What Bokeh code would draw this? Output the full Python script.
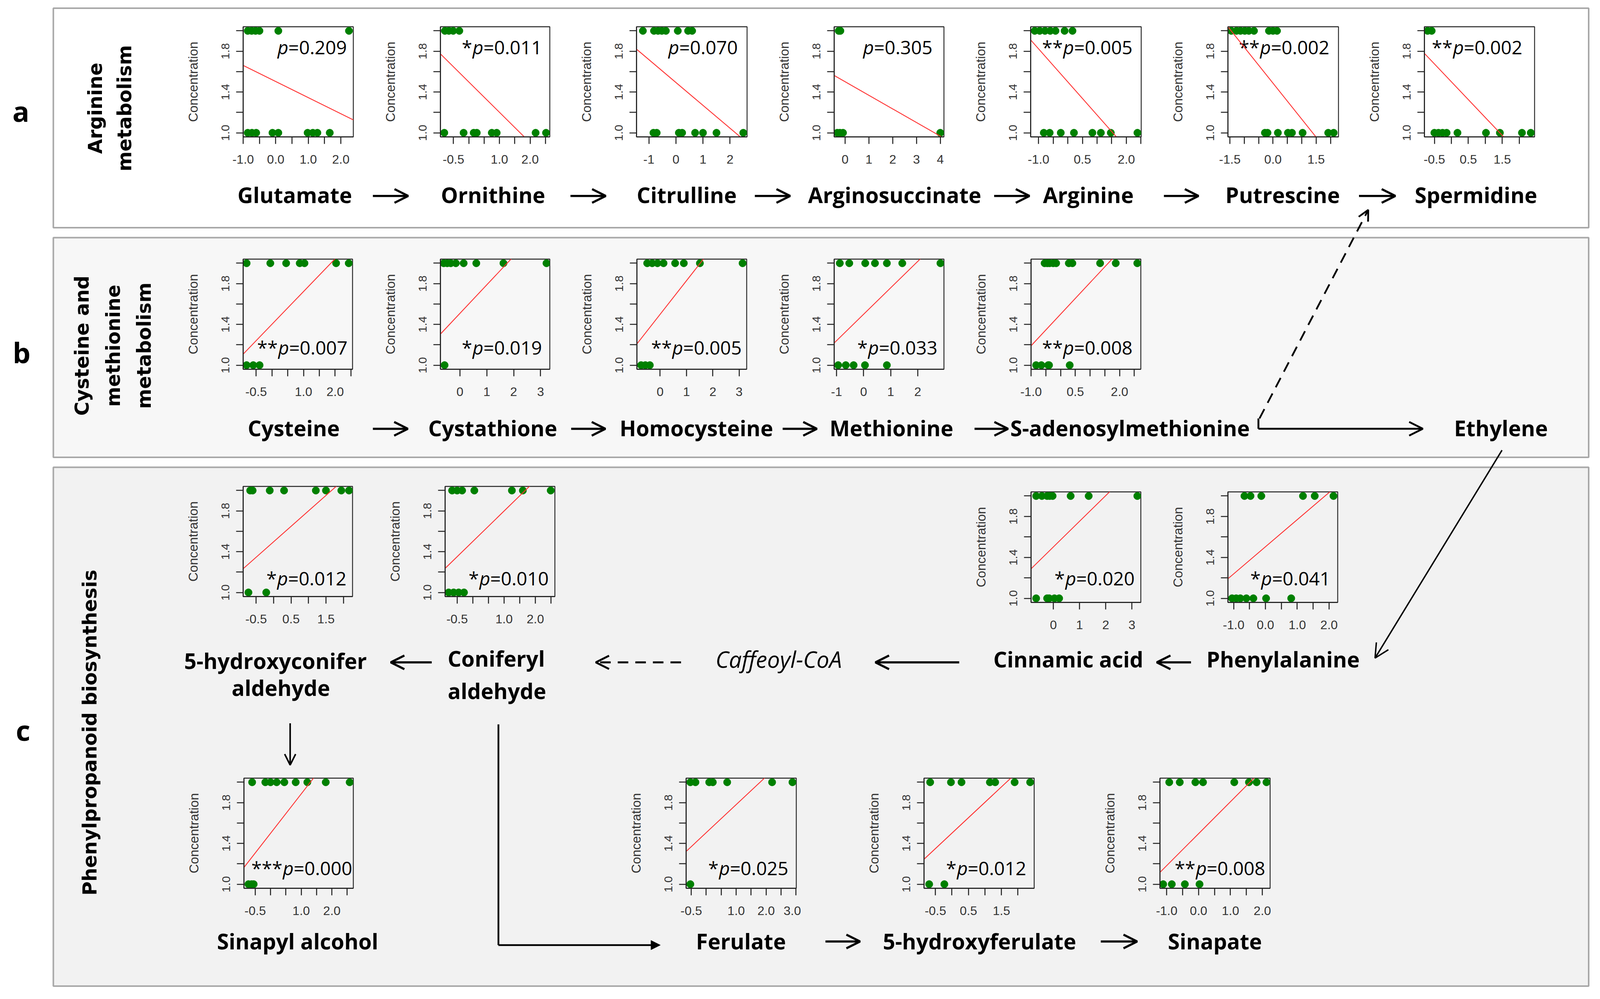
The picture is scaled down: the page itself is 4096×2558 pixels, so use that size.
import math
from bokeh.plotting import figure
from bokeh.models import Range1d, FixedTicker, Arrow, OpenHead, NormalHead, GridBox
from bokeh.embed import file_html
from bokeh.resources import INLINE
from bokeh.core.properties import value

# ---------------- data ----------------
METABOLITES = ["Glutamate", "Ornithine", "Citrulline", "Arginosuccinate", "Arginine",
               "Putrescine", "Spermidine",
               "Cysteine", "Cystathione", "Homocysteine", "Methionine", "S-adenosylmethionine",
               "5-hydroxyconifer aldehyde", "Coniferyl aldehyde", "Cinnamic acid", "Phenylalanine",
               "Sinapyl alcohol", "Ferulate", "5-hydroxyferulate", "Sinapate"]

CONC_LEVELS = [1.0, 2.0]

X_AT_HIGH = [
    [-0.86, -0.74, -0.62, -0.50, 0.08, 2.25],
    [-0.78, -0.65, -0.51, -0.31],
    [-1.22, -0.81, -0.66, -0.52, -0.37, 0.07, 0.45, 0.60],
    [-0.27, -0.20],
    [-1.13, -0.96, -0.78, -0.60, -0.42, -0.11, 0.16],
    [-1.45, -1.27, -1.13, -0.98, -0.84, -0.66, -0.14, 0.0, 0.14],
    [-0.70, -0.58],
    [-0.80, -0.05, 0.45, 0.88, 1.03, 2.03, 2.43],
    [-0.60, -0.47, -0.34, -0.15, 0.14, 0.61, 1.62, 3.22],
    [-0.49, -0.30, -0.10, 0.13, 0.57, 0.90, 1.51, 3.13],
    [-0.88, -0.53, 0.06, 0.42, 0.86, 1.43, 2.84],
    [-0.54, -0.45, -0.37, -0.25, -0.15, 0.28, 0.40, 1.34, 1.87, 2.60],
    [-0.67, -0.60, -0.11, 0.30, 1.21, 1.50, 1.94, 2.16],
    [-0.66, -0.50, -0.34, 0.05, 1.25, 1.60, 2.49],
    [-0.66, -0.44, -0.24, -0.14, -0.03, 0.66, 1.35, 3.21],
    [-0.66, -0.47, -0.13, 1.18, 1.55, 2.14],
    [-0.60, -0.17, 0.0, 0.20, 0.45, 0.82, 1.20, 1.80, 2.58],
    [-0.53, -0.36, 0.10, 0.22, 0.70, 2.20, 2.88],
    [-0.66, -0.03, 0.29, 1.15, 1.31, 1.90, 2.37],
    [-0.92, -0.59, -0.10, 0.14, 1.12, 1.58, 1.82, 2.13],
]

X_AT_LOW = [
    [-0.86, -0.73, -0.60, -0.10, 0.08, 0.98, 1.14, 1.28, 1.66],
    [-0.80, -0.17, 0.16, 0.26, 0.75, 0.91, 2.18, 2.52],
    [-0.83, -0.71, 0.11, 0.23, 0.71, 1.00, 1.50, 2.49],
    [-0.33, -0.22, -0.09, 4.00],
    [-0.82, -0.62, -0.24, 0.21, 0.84, 1.13, 1.47, 2.38],
    [-0.28, -0.19, 0.17, 0.52, 0.66, 1.03, 1.92, 2.11],
    [-0.50, -0.38, -0.26, -0.14, 0.18, 1.02, 1.43, 2.08, 2.34],
    [-0.80, -0.59, -0.39],
    [-0.57],
    [-0.72, -0.56, -0.39],
    [-0.94, -0.66, -0.37, 0.05, 0.86],
    [-0.83, -0.65, -0.42, -0.39, 0.31],
    [-0.72, -0.21],
    [-0.77, -0.61, -0.45, -0.28],
    [-0.66, -0.24, -0.16, 0.04, 0.22],
    [-1.05, -0.92, -0.79, -0.60, -0.38, 0.02, 0.81],
    [-0.72, -0.62, -0.55],
    [-0.53],
    [-0.69, -0.23],
    [-1.11, -0.84, -0.43, 0.03],
]

FIT_INTERCEPT = [1.503, 1.4985, 1.4936, 1.5007, 1.4992, 1.487, 1.5006,
                 1.4008, 1.5076, 1.4986, 1.4994, 1.4998,
                 1.497, 1.4999, 1.502, 1.5037,
                 1.499, 1.5055, 1.5008, 1.4955]
FIT_SLOPE = [-0.158, -0.2975, -0.2243, -0.1333, -0.3245, -0.353, -0.3506,
             0.3215, 0.2802, 0.3297, 0.259, 0.3098,
             0.303, 0.2988, 0.2506, 0.265,
             0.3864, 0.275, 0.3024, 0.3134]

P_STARS = ["", "*", "", "", "**", "**", "**",
           "**", "*", "**", "*", "**",
           "*", "*", "*", "*",
           "***", "*", "*", "**"]
P_VALUES = ["0.209", "0.011", "0.070", "0.305", "0.005", "0.002", "0.002",
            "0.007", "0.019", "0.005", "0.033", "0.008",
            "0.012", "0.010", "0.020", "0.041",
            "0.000", "0.025", "0.012", "0.008"]

X_LIMITS = [(-1.0, 2.384), (-0.926, 2.643), (-1.455, 2.630), (-0.46, 4.154), (-1.269, 2.509),
            (-1.566, 2.277), (-0.794, 2.452),
            (-0.909, 2.55), (-0.723, 3.343), (-0.88, 3.285), (-1.088, 2.97), (-1.0, 2.72),
            (-0.871, 2.261), (-0.883, 2.623), (-0.854, 3.343), (-1.18, 2.272),
            (-0.867, 2.699), (-0.671, 3.008), (-0.846, 2.492), (-1.211, 2.244)]

X_TICKS = [
    [-1.0, -0.5, 0.0, 0.5, 1.0, 1.5, 2.0],
    [-0.5, 0.0, 0.5, 1.0, 1.5, 2.0, 2.5],
    [-1, 0, 1, 2],
    [0, 1, 2, 3, 4],
    [-1.0, -0.5, 0.0, 0.5, 1.0, 1.5, 2.0, 2.5],
    [-1.5, -1.0, -0.5, 0.0, 0.5, 1.0, 1.5, 2.0],
    [-0.5, 0.0, 0.5, 1.0, 1.5, 2.0],
    [-0.5, 0.0, 0.5, 1.0, 1.5, 2.0, 2.5],
    [0, 1, 2, 3],
    [0, 1, 2, 3],
    [-1, 0, 1, 2],
    [-1.0, -0.5, 0.0, 0.5, 1.0, 1.5, 2.0, 2.5],
    [-0.5, 0.0, 0.5, 1.0, 1.5, 2.0],
    [-0.5, 0.0, 0.5, 1.0, 1.5, 2.0, 2.5],
    [0, 1, 2, 3],
    [-1.0, -0.5, 0.0, 0.5, 1.0, 1.5, 2.0],
    [-0.5, 0.0, 0.5, 1.0, 1.5, 2.0, 2.5],
    [-0.5, 0.0, 0.5, 1.0, 1.5, 2.0, 2.5, 3.0],
    [-0.5, 0.0, 0.5, 1.0, 1.5, 2.0],
    [-1.0, -0.5, 0.0, 0.5, 1.0, 1.5, 2.0],
]
X_TICK_LABELS = [
    ["-1.0", "", "0.0", "", "1.0", "", "2.0"],
    ["-0.5", "", "", "1.0", "", "2.0", ""],
    ["-1", "0", "1", "2"],
    ["0", "1", "2", "3", "4"],
    ["-1.0", "", "", "0.5", "", "", "2.0", ""],
    ["-1.5", "", "", "0.0", "", "", "1.5", ""],
    ["-0.5", "", "0.5", "", "1.5", ""],
    ["-0.5", "", "", "1.0", "", "2.0", ""],
    ["0", "1", "2", "3"],
    ["0", "1", "2", "3"],
    ["-1", "0", "1", "2"],
    ["-1.0", "", "", "0.5", "", "", "2.0", ""],
    ["-0.5", "", "0.5", "", "1.5", ""],
    ["-0.5", "", "", "1.0", "", "2.0", ""],
    ["0", "1", "2", "3"],
    ["-1.0", "", "0.0", "", "1.0", "", "2.0"],
    ["-0.5", "", "", "1.0", "", "2.0", ""],
    ["-0.5", "", "", "1.0", "", "2.0", "", "3.0"],
    ["-0.5", "", "0.5", "", "1.5", ""],
    ["-1.0", "", "0.0", "", "1.0", "", "2.0"],
]

Y_LIMITS = (0.96, 2.04)
Y_TICKS = [1.0, 1.2, 1.4, 1.6, 1.8, 2.0]
Y_TICK_LABELS = ["1.0", "", "1.4", "", "1.8", ""]

# ---------------- layout (reference pixel space, 4484 x 2800) ----------------
S = 0.913
W, H = 4080, 2540

FRAMES = [
    (681, 74.6, 990, 383), (1234, 74.6, 1541.5, 383), (1784, 74.6, 2094, 383),
    (2338, 74.6, 2646, 383), (2889, 74.6, 3199, 383), (3442, 74.6, 3752, 383),
    (3993, 74.6, 4302, 383),
    (681, 726.7, 988, 1035.5), (1234, 726.7, 1541, 1035.5), (1785, 726.7, 2093, 1035.5),
    (2338, 726.7, 2646, 1035.5), (2890, 726.7, 3198, 1035.5),
    (681, 1363.6, 988, 1673), (1248, 1363.6, 1555, 1673),
    (2890, 1379.5, 3198, 1689), (3442.5, 1379.5, 3750.6, 1689),
    (683, 2182, 990, 2491), (1923, 2182, 2232, 2491), (2590, 2182, 2899, 2491),
    (3252, 2182, 3560.5, 2491),
]
# right end and vertical centre of each p-value note
P_LABEL_POS = [
    (972, 131), (1519, 131), (2068, 131), (2614, 131), (3175, 131), (3727, 131), (4268, 131),
    (974, 974), (1519, 974), (2079, 974), (2628, 974), (3175, 974),
    (971, 1621), (1538, 1621), (3181, 1621), (3730, 1621),
    (987, 2434), (2210, 2434), (2877, 2434), (3547, 2434),
]

BOXES = [(149, 22.5, 4454, 638, "#ffffff"),
         (149, 666, 4454, 1282, "#f7f7f7"),
         (149, 1310, 4454, 2765, "#f2f2f2")]

NAME_TEXT = [
    ("Glutamate", 826, 545), ("Ornithine", 1382, 545), ("Citrulline", 1925, 545),
    ("Arginosuccinate", 2508, 545), ("Arginine", 3051, 545), ("Putrescine", 3596, 545),
    ("Spermidine", 4138, 545),
    ("Cysteine", 823, 1199), ("Cystathione", 1381, 1199), ("Homocysteine", 1952, 1199),
    ("Methionine", 2499, 1199), ("S-adenosylmethionine", 3168, 1199), ("Ethylene", 4208, 1199),
    ("5-hydroxyconifer", 772, 1852), ("aldehyde", 787, 1928),
    ("Coniferyl", 1391, 1846), ("aldehyde", 1393, 1937),
    ("Cinnamic acid", 2995, 1848), ("Phenylalanine", 3597, 1848),
    ("Sinapyl alcohol", 834, 2639), ("Ferulate", 2077, 2639),
    ("5-hydroxyferulate", 2746, 2639), ("Sinapate", 3406, 2639),
]
ITALIC_TEXT = [("Caffeoyl-CoA", 2183, 1848)]
SIDE_TEXT = [("Arginine", 267, 303), ("metabolism", 349, 303),
             ("Cysteine and", 230, 969), ("methionine", 318, 969), ("metabolism", 404, 969),
             ("Phenylpropanoid biosynthesis", 252, 2054)]
LETTERS = [("a", 58, 311), ("b", 60, 987), ("c", 64, 2047)]

# (x0, y0, x1, y1, head size px, line width px)
ARROWS = [
    (1045, 549, 1144, 549, 35, 5.5), (1599, 549, 1698, 549, 35, 5.5),
    (2116, 549, 2215, 549, 35, 5.5), (2787, 549, 2886, 549, 35, 5.5),
    (3263, 549, 3360, 549, 35, 5.5), (3810, 549, 3912, 549, 35, 5.5),
    (1045, 1202, 1143, 1202, 35, 5.5), (1601, 1202, 1697, 1202, 35, 5.5),
    (2194, 1202, 2290, 1202, 35, 5.5), (2732, 1202, 2826, 1202, 35, 5.5),
    (3528, 1202, 3989, 1202, 35, 4.8),
    (4211, 1262, 3855, 1845, 36, 3.6),
    (1210, 1857, 1095, 1857, 35, 5.5), (2689, 1857, 2454, 1857, 35, 5.5),
    (3339, 1857, 3243, 1857, 35, 5.5),
    (813, 2028, 813, 2145, 28, 4.0),
    (2314, 2640, 2411, 2640, 35, 5.5), (3086, 2640, 3188, 2640, 35, 5.5),
]
DASHED_ARROWS = [(3531, 1173, 3836, 588, 27, 4.5), (1909, 1857, 1670, 1857, 34, 5.0)]
FILLED_ARROWS = [(1397, 2650, 1851, 2650, 24, 4.5)]
CONNECTORS = [(3528, 1173, 3528, 1202, 4.8), (1397, 2031, 1397, 2650, 4.5)]

MBL, MBR, MBT, MBB = 190, 12, 12, 100

NAME_PX = 55
P_PX = 48
EM = {"*": 0.551, "p": 0.602, "=": 0.571, ".": 0.266}


def text_w(s):
    return sum(EM.get(c, 0.571) for c in s) * P_PX / S


def make_panel(i):
    l, t, r, b = FRAMES[i]
    fl, ft = round(l * S), round(t * S)
    fw, fh = round(r * S) - fl, round(b * S) - ft
    f = figure(frame_width=fw, frame_height=fh,
               x_range=Range1d(*X_LIMITS[i]), y_range=Range1d(*Y_LIMITS),
               output_backend="svg", toolbar_location=None,
               min_border_left=MBL, min_border_right=MBR,
               min_border_top=MBT, min_border_bottom=MBB,
               background_fill_alpha=0, border_fill_alpha=0,
               outline_line_color="#222222", outline_line_width=2.3)
    f.grid.visible = False
    xa, ya = f.xaxis[0], f.yaxis[0]
    for ax in (xa, ya):
        ax.axis_line_color = "#222222"
        ax.axis_line_width = 2.6
        ax.major_tick_line_color = "#222222"
        ax.major_tick_line_width = 2.6
        ax.major_tick_in = 0
        ax.major_tick_out = 18
        ax.minor_tick_in = 0
        ax.minor_tick_out = 0
        ax.major_label_text_font = "Liberation Sans"
        ax.major_label_text_color = "#333333"
    xa.ticker = FixedTicker(ticks=X_TICKS[i], minor_ticks=[])
    xa.major_label_overrides = dict(zip(X_TICKS[i], X_TICK_LABELS[i]))
    xa.major_label_text_font_size = "32px"
    xa.major_label_standoff = 28
    ya.ticker = FixedTicker(ticks=Y_TICKS, minor_ticks=[])
    ya.major_label_overrides = dict(zip(Y_TICKS, Y_TICK_LABELS))
    ya.major_label_text_font_size = "30px"
    ya.major_label_orientation = "vertical"
    ya.major_label_standoff = 17
    ya.axis_label = "Concentration"
    ya.axis_label_text_font = "Liberation Sans"
    ya.axis_label_text_font_size = "33px"
    ya.axis_label_text_font_style = "normal"
    ya.axis_label_text_color = "#333333"
    ya.axis_label_standoff = 52

    hi = X_AT_HIGH[i]
    lo = X_AT_LOW[i]
    f.scatter(hi, [CONC_LEVELS[1]] * len(hi), size=19, fill_color="#008000", line_color="#008000")
    f.scatter(lo, [CONC_LEVELS[0]] * len(lo), size=19, fill_color="#008000", line_color="#008000")
    x0, x1 = X_LIMITS[i]
    f.segment(x0=[x0], y0=[FIT_INTERCEPT[i] + FIT_SLOPE[i] * x0],
              x1=[x1], y1=[FIT_INTERCEPT[i] + FIT_SLOPE[i] * x1],
              line_color="#ff3030", line_width=2.2)
    return f, fl - MBL, ft - MBT, MBL + fw + MBR, MBT + fh + MBB


# ---------------- background diagram ----------------
bg = figure(width=W, height=H, x_range=Range1d(0, W / S), y_range=Range1d(H / S, 0),
            output_backend="svg", toolbar_location=None, min_border=0,
            x_axis_location=None, y_axis_location=None,
            outline_line_color=None, background_fill_color="white", border_fill_color="white")
bg.grid.visible = False

bg.quad(left=[b[0] for b in BOXES], top=[b[1] for b in BOXES],
        right=[b[2] for b in BOXES], bottom=[b[3] for b in BOXES],
        fill_color=[b[4] for b in BOXES], line_color="#a8a8a8", line_width=4)

bg.text(x=[t[1] for t in NAME_TEXT], y=[t[2] for t in NAME_TEXT], text=[t[0] for t in NAME_TEXT],
        text_font=value("Open Sans"), text_font_style="bold", text_font_size=f"{NAME_PX}px",
        text_align="center", text_baseline="middle", text_color="black")
bg.text(x=[t[1] for t in ITALIC_TEXT], y=[t[2] for t in ITALIC_TEXT], text=[t[0] for t in ITALIC_TEXT],
        text_font=value("Open Sans"), text_font_style="italic", text_font_size="58px",
        text_align="center", text_baseline="middle", text_color="black")
bg.text(x=[t[1] for t in SIDE_TEXT], y=[t[2] for t in SIDE_TEXT], text=[t[0] for t in SIDE_TEXT],
        text_font=value("DejaVu Sans"), text_font_style="bold", text_font_size="49px",
        text_align="center", text_baseline="middle", angle=math.pi / 2, text_color="black")
bg.text(x=[t[1] for t in LETTERS], y=[t[2] for t in LETTERS], text=[t[0] for t in LETTERS],
        text_font=value("Open Sans"), text_font_style="bold", text_font_size="72px",
        text_align="center", text_baseline="middle", text_color="black")

# p-value annotations: stars, italic p, "=value"
for i in range(len(METABOLITES)):
    xr, yc = P_LABEL_POS[i]
    num = "=" + P_VALUES[i]
    bg.text(x=[xr], y=[yc], text=[num], text_font=value("Open Sans"), text_font_size=f"{P_PX}px",
            text_align="right", text_baseline="middle", text_color="black")
    xp = xr - text_w(num)
    bg.text(x=[xp], y=[yc], text=["p"], text_font=value("Open Sans"), text_font_style="italic",
            text_font_size=f"{P_PX}px", text_align="right", text_baseline="middle",
            text_color="black")
    if P_STARS[i]:
        bg.text(x=[xp - text_w("p")], y=[yc], text=[P_STARS[i]], text_font=value("Open Sans"),
                text_font_size=f"{P_PX}px", text_align="right", text_baseline="middle",
                text_color="black")

for x0, y0, x1, y1, lw in CONNECTORS:
    bg.segment(x0=[x0], y0=[y0], x1=[x1], y1=[y1], line_color="black", line_width=lw)
for x0, y0, x1, y1, sz, lw in ARROWS:
    bg.add_layout(Arrow(end=OpenHead(size=sz, line_width=lw, line_color="black"),
                        x_start=x0, y_start=y0, x_end=x1, y_end=y1,
                        line_width=lw, line_color="black"))
for x0, y0, x1, y1, sz, lw in DASHED_ARROWS:
    bg.add_layout(Arrow(end=OpenHead(size=sz, line_width=lw, line_color="black"),
                        x_start=x0, y_start=y0, x_end=x1, y_end=y1,
                        line_width=lw, line_color="black", line_dash="27 18"))
for x0, y0, x1, y1, sz, lw in FILLED_ARROWS:
    bg.add_layout(Arrow(end=NormalHead(size=sz, line_width=1, line_color="black", fill_color="black"),
                        x_start=x0, y_start=y0, x_end=x1, y_end=y1,
                        line_width=lw, line_color="black"))

# ---------------- assemble with a CSS grid so panels sit at their places ----------------
panels = [make_panel(i) for i in range(len(METABOLITES))]
xs = sorted({0, W} | {p[1] for p in panels} | {p[1] + p[3] for p in panels})
ys = sorted({0, H} | {p[2] for p in panels} | {p[2] + p[4] for p in panels})
ci = {v: k for k, v in enumerate(xs)}
ri = {v: k for k, v in enumerate(ys)}
children = [(bg, 0, 0, len(ys) - 1, len(xs) - 1)]
for f, x, y, w, h in panels:
    children.append((f, ri[y], ci[x], ri[y + h] - ri[y], ci[x + w] - ci[x]))
grid = GridBox(children=children,
               rows=[f"{b - a}px" for a, b in zip(ys, ys[1:])],
               cols=[f"{b - a}px" for a, b in zip(xs, xs[1:])],
               spacing=0)

open("out.html", "w").write(file_html(grid, INLINE))
